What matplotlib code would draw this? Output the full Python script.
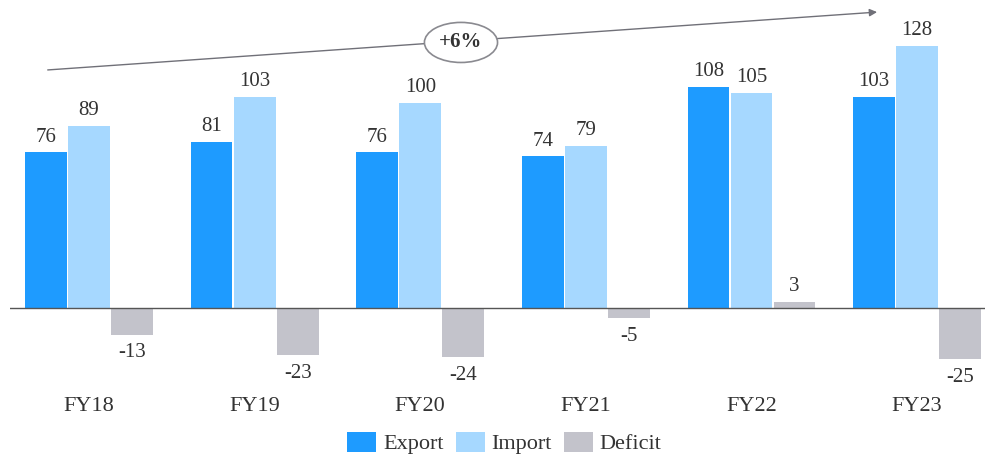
import matplotlib.pyplot as plt
import numpy as np

years = ["FY18", "FY19", "FY20", "FY21", "FY22", "FY23"]
export = [76, 81, 76, 74, 108, 103]
imports = [89, 103, 100, 79, 105, 128]
deficit = [-13, -23, -24, -5, 3, -25]

plt.rcParams['font.family'] = ['Liberation Serif', 'DejaVu Serif']

fig = plt.figure(figsize=(9.85, 4.54), dpi=100)
ax = fig.add_axes([10 / 985, 74 / 454, 975 / 985, 380 / 454])

x = np.arange(len(years))
w = 0.26
txt = "#333333"
series = [(export, "#1E9BFF", "Export", -w), (imports, "#A6D8FF", "Import", 0), (deficit, "#C3C3CB", "Deficit", w)]
for vals, color, label, off in series:
    bars = ax.bar(x + off, vals, w * 0.97, color=color, label=label)
    for b, v in zip(bars, vals):
        if v >= 0:
            ax.annotate(str(v), (b.get_x() + b.get_width() / 2, v), xytext=(0, 4),
                        textcoords='offset points', ha='center', va='bottom', fontsize=15, color=txt)
        else:
            ax.annotate(str(v), (b.get_x() + b.get_width() / 2, v), xytext=(0, -6),
                        textcoords='offset points', ha='center', va='top', fontsize=15, color=txt)

ax.axhline(0, color="#555555", lw=1)
ax.set_xlim(-0.477, 5.41)
ax.set_ylim(-35.1, 150.2)
ax.set_xticks(x)
ax.set_xticklabels(years, fontsize=16, color=txt)
ax.tick_params(axis='x', length=0, pad=12)
ax.set_yticks([])
for s in ax.spines.values():
    s.set_visible(False)

# CAGR arrow
ax.annotate("", xy=(4.775, 144.4), xytext=(-0.266, 116),
            arrowprops=dict(arrowstyle="-|>", color="#707078", lw=1.0, mutation_scale=11))
ax.text(2.246, 129.5, "+6%", ha='center', va='center', fontsize=15, fontweight='bold', color=txt,
        bbox=dict(boxstyle="ellipse,pad=0.2", fc="white", ec="#8a8a90", lw=1.2))

fig.legend(loc='lower center', ncol=3, frameon=False, fontsize=16, handlelength=1.3,
           handleheight=1.0, handletextpad=0.3, columnspacing=0.55, bbox_to_anchor=(0.512, -0.045),
           labelcolor=txt)

fig.savefig("out.png", dpi=100)
